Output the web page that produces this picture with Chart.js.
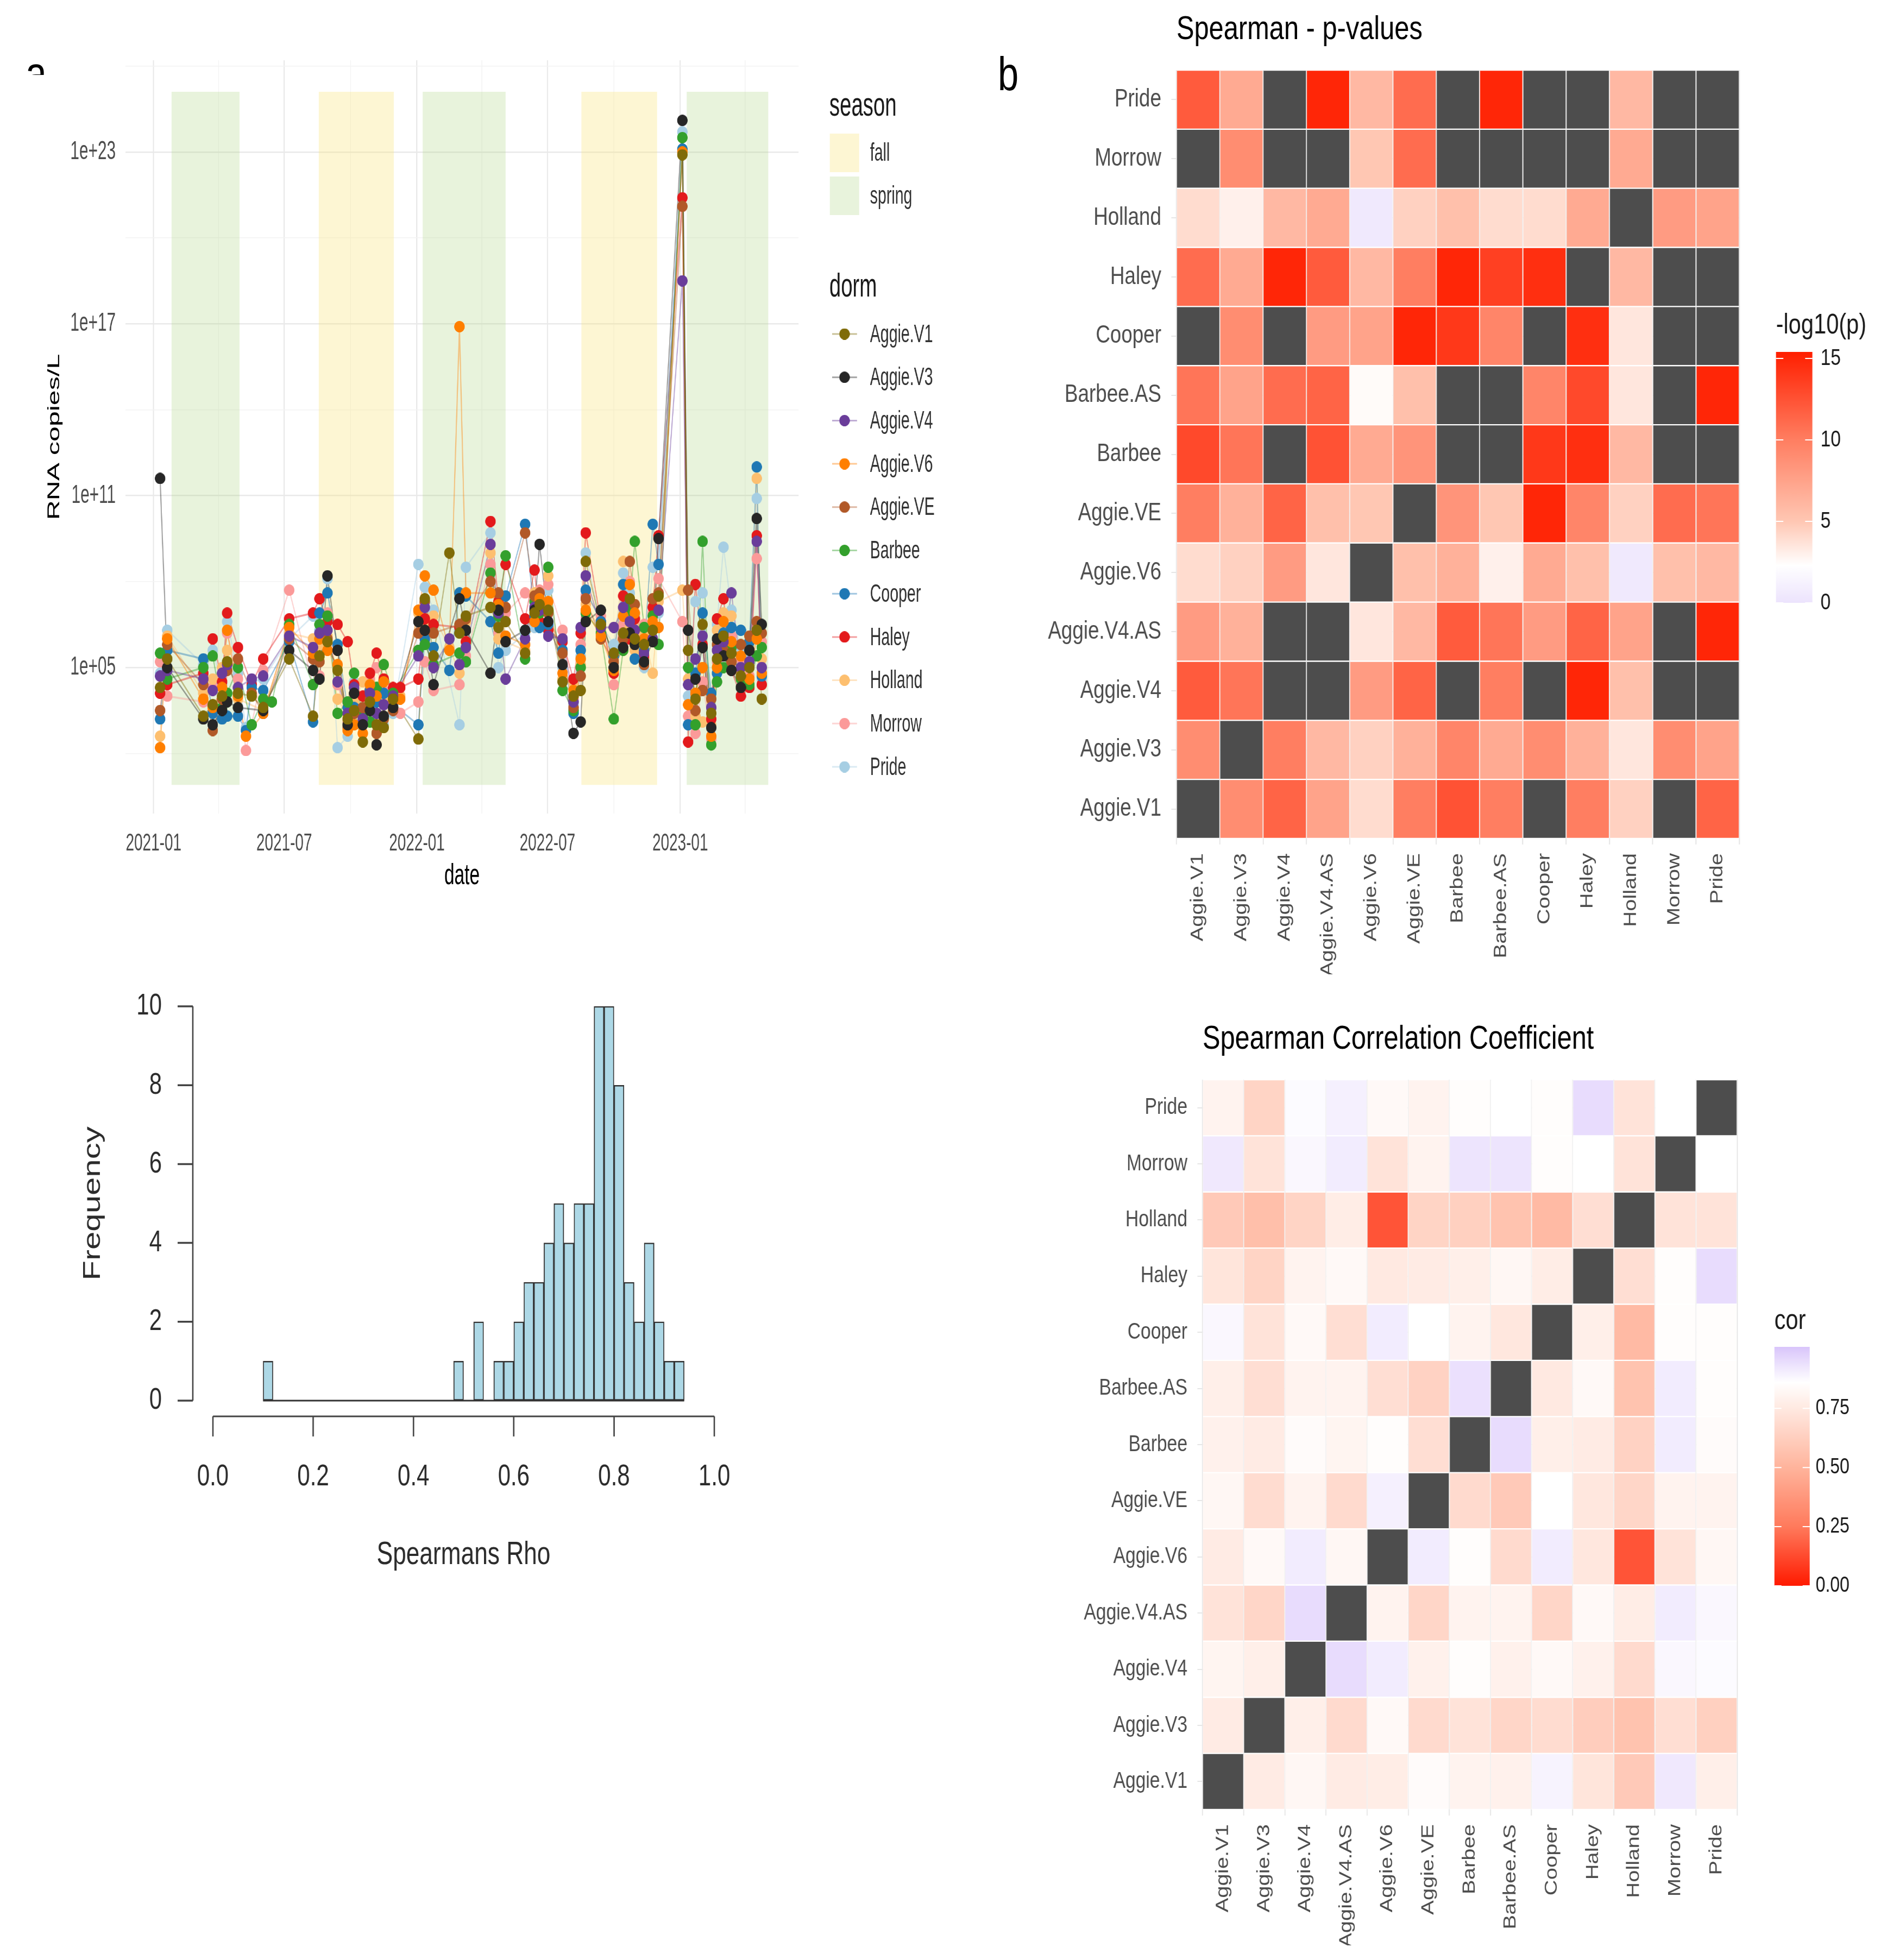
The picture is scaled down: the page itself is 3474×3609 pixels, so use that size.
<!DOCTYPE html>
<html>
<head>
<meta charset="utf-8">
<script src="https://cdn.jsdelivr.net/npm/chart.js@4.4.1/dist/chart.umd.min.js"></script>
<style>
  html, body { margin: 0; padding: 0; background: #fff; }
  body { width: 3474px; height: 3609px; position: relative; overflow: hidden; font-family: 'Liberation Sans', Arial, sans-serif; }
  canvas { position: absolute; }
  .tag { position: absolute; font-size: 88px; line-height: 88px; color: #000; transform-origin: 0 0; }
</style>
</head>
<body>
<div style="position:absolute;left:0;top:0;width:200px;height:138px;overflow:hidden;">
  <div class="tag" style="left:47px;top:91px;transform:scaleX(0.8)">a</div>
</div>
<div class="tag" style="left:1837px;top:92px;transform:scaleX(0.78)">b</div>
<canvas id="ts"></canvas>
<canvas id="hist"></canvas>
<canvas id="pval"></canvas>
<canvas id="corr"></canvas>
<script>
// ---------- data: panel a (log10 RNA copies/L by sampling date) ----------
const tsDates = [
  '2021-01-10','2021-01-20','2021-03-11','2021-03-24','2021-04-06','2021-04-13','2021-04-28','2021-05-09','2021-05-17','2021-06-02',
  '2021-06-14','2021-07-08','2021-08-10','2021-08-19','2021-08-30','2021-09-13','2021-09-27','2021-10-06','2021-10-18','2021-10-28',
  '2021-11-06','2021-11-16','2021-11-29','2021-12-09','2022-01-03','2022-01-12','2022-01-24','2022-02-15','2022-03-01','2022-03-10',
  '2022-04-13','2022-04-24','2022-05-04','2022-05-31','2022-06-13','2022-06-20','2022-07-02','2022-07-22','2022-08-06','2022-08-16',
  '2022-08-23','2022-09-13','2022-10-01','2022-10-14','2022-10-23','2022-10-30','2022-11-12','2022-11-24','2022-12-02','2023-01-04',
  '2023-01-12','2023-01-22','2023-02-01','2023-02-13','2023-02-21','2023-03-02','2023-03-13','2023-03-26','2023-04-07','2023-04-17',
  '2023-04-24'
];
const aggieV1 = [4.3,5.3,3.3,3.7,4.0,5.2,4.1,null,4.0,3.6, null,5.3,3.3,5.4,5.9,4.9,3.2,3.5,2.4,3.8, 3.0,2.9,3.9,null,2.5,7.4,5.4,9.0,6.2,6.8,
  7.1,6.4,6.6,5.5,6.9,7.2,7.0,4.5,4.0,4.2, 8.7,6.5,5.5,6.2,7.4,6.0,5.8,6.3,7.5,22.9, 5.6,3.9,6.5,3.4,5.3,6.1,5.5,4.7,5.0,6.3, 3.9];
const aggieV3 = [11.6,5.0,3.2,3.0,3.5,3.8,3.6,null,null,3.5, null,5.6,4.9,4.6,8.2,5.6,3.0,4.1,3.0,3.5, 2.3,3.3,3.6,null,6.6,6.3,4.4,null,7.4,6.3,
  4.8,7.0,5.9,6.3,7.0,9.3,6.6,5.1,2.7,3.1, 6.6,7.0,5.0,5.7,6.2,5.8,5.2,5.9,9.5,24.1, 6.3,4.6,5.7,2.9,6.0,5.4,4.9,4.3,5.6,10.2, 6.5];
const aggieV4 = [4.7,4.9,4.6,4.2,4.8,5.1,4.3,null,4.6,4.7, null,6.1,5.7,6.2,6.3,4.5,3.4,4.3,3.2,4.1, 3.4,3.7,4.0,null,5.4,7.1,5.0,6.0,5.1,5.7,
  9.3,6.9,4.6,6.0,7.1,7.0,6.1,6.0,3.8,6.4, 8.2,6.4,6.4,7.1,6.6,6.3,5.5,6.0,7.0,18.5, 4.4,5.3,6.1,3.6,5.6,5.9,7.6,5.0,5.2,9.4, 5.0];
const aggieV6 = [2.2,6.0,3.9,3.6,4.3,6.3,4.0,2.6,null,3.4, null,6.4,5.5,6.0,5.6,5.1,2.8,3.0,2.7,4.4, 4.0,4.5,3.8,3.9,7.0,8.2,7.7,5.6,16.9,7.6,
  7.6,7.2,6.1,5.8,6.6,7.4,7.3,4.8,4.2,5.3, 7.0,6.1,4.9,6.8,7.9,6.9,6.0,6.6,6.4,23.0, 3.7,4.1,5.0,2.6,5.0,6.6,5.9,5.4,4.6,6.0, 4.8];
const aggieVE = [3.5,5.8,4.4,2.8,3.9,4.9,5.3,null,4.1,3.4, null,6.0,5.3,5.2,6.0,5.6,2.9,3.4,3.6,3.9, 2.7,3.2,3.5,null,6.2,7.3,6.2,null,6.5,6.7,
  8.0,7.6,7.1,9.7,7.5,7.6,6.9,5.5,3.6,4.7, 7.4,6.0,5.2,6.0,8.7,7.2,5.1,7.4,7.6,21.1, 7.7,3.5,4.2,3.9,5.8,5.6,5.2,5.8,6.1,6.6, 6.2];
const barbee = [5.5,4.6,5.0,5.4,3.6,4.1,5.0,null,3.0,3.9, 3.8,6.5,4.4,6.5,6.8,3.4,3.8,4.8,3.3,3.1, 4.3,5.1,4.1,null,5.6,5.8,5.1,null,5.5,5.2,
  8.3,6.8,8.9,5.3,7.3,6.9,8.5,4.2,3.5,5.0, 6.9,6.2,3.2,5.6,7.0,9.4,6.4,6.8,5.8,23.5, 5.0,3.0,9.4,2.3,4.5,5.0,5.7,4.6,4.4,5.4, 5.7];
const cooper = [3.2,5.6,5.3,3.4,3.2,3.3,3.3,2.8,4.3,4.2, null,5.9,3.1,6.9,7.6,5.8,3.6,3.6,3.1,4.2, 3.8,4.1,3.7,null,3.0,6.0,5.7,4.9,7.6,7.5,
  6.6,5.5,7.5,10.0,6.8,6.4,6.5,5.6,3.4,5.6, 7.7,6.6,5.4,7.9,7.3,5.3,5.6,10.0,8.6,23.1, 3.0,4.8,6.9,4.1,4.8,6.2,6.4,6.3,5.9,12.0, 4.7];
const haley = [4.1,4.4,4.8,6.0,4.5,6.9,5.7,null,4.4,5.3, null,6.7,6.9,7.4,6.6,6.5,5.9,4.4,4.0,4.8, 5.5,4.6,4.3,4.3,4.6,6.7,6.5,null,6.4,5.9,
  10.1,7.3,8.6,6.7,8.4,6.6,6.3,5.9,4.6,6.2, 9.7,6.6,4.8,7.5,6.0,6.7,5.4,7.1,9.6,21.4, 2.4,7.9,5.8,3.2,6.7,7.4,4.9,4.0,4.3,9.6, 4.4];
const holland = [2.6,6.1,4.1,4.6,5.0,5.6,3.9,null,null,3.5, null,6.2,6.0,5.8,6.1,3.9,3.3,3.8,4.5,4.4, 4.0,3.9,3.7,4.0,6.9,6.4,6.8,5.7,4.8,6.6,
  9.0,6.0,5.9,5.6,7.6,7.0,8.2,4.6,4.4,5.1, 7.2,6.3,5.3,8.7,6.4,5.6,6.2,4.8,7.3,7.7, 4.6,3.3,3.1,3.0,6.3,6.9,6.8,4.9,5.1,11.6, 5.3];
const morrow = [5.2,4.0,3.8,4.3,4.7,6.2,4.6,2.1,null,4.9, null,7.7,4.4,4.7,6.9,4.4,3.1,4.0,3.5,4.6, 5.0,4.2,3.8,3.4,3.8,5.2,4.2,null,4.4,5.4,
  8.6,6.2,6.9,7.6,7.5,7.7,7.9,6.3,3.9,5.8, 7.5,6.8,4.4,6.5,8.0,6.1,6.5,6.9,8.1,6.6, 3.3,2.7,4.5,2.5,5.2,6.0,6.1,5.3,4.7,8.8, 5.9];
const pride = [4.8,6.3,5.1,5.6,4.4,6.6,4.8,2.9,4.5,4.6, null,6.0,6.8,6.3,8.1,2.2,2.6,4.5,3.0,3.6, 3.4,3.0,3.4,null,8.6,7.8,7.0,null,3.0,8.5,
  9.7,5.0,5.6,6.2,6.4,7.2,7.7,5.0,3.7,5.4, 9.0,6.5,5.8,8.3,7.6,6.8,5.0,8.5,6.9,23.7, 4.0,7.3,7.6,3.6,6.5,9.2,7.0,5.7,5.5,10.9, 4.6];

const dormNames = ['Aggie.V1','Aggie.V3','Aggie.V4','Aggie.V6','Aggie.VE','Barbee','Cooper','Haley','Holland','Morrow','Pride'];
const dormValues = [aggieV1, aggieV3, aggieV4, aggieV6, aggieVE, barbee, cooper, haley, holland, morrow, pride];
const dormColors = ['#7f6b08','#262626','#6a3d9a','#ff7f00','#b15928','#33a02c','#1f78b4','#e31a1c','#fdbf6f','#fb9a99','#a6cee3'];

const seasonNames  = ['spring','fall','spring','fall','spring'];
const seasonStarts = ['2021-01-26','2021-08-18','2022-01-09','2022-08-17','2023-01-10'];
const seasonEnds   = ['2021-04-30','2021-11-30','2022-05-04','2022-11-30','2023-05-03'];
const seasonYRange = [0.9, 25.1];

const xMajorDates = ['2021-01-01','2021-07-01','2022-01-01','2022-07-01','2023-01-01'];
const xMinorDates = ['2021-04-01','2021-10-01','2022-04-01','2022-10-01','2023-04-01'];
const yTickValues = [2, 5, 8, 11, 14, 17, 20, 23, 26];
const yLabeledTicks = [5, 11, 17, 23];

// ---------- data: histogram of Spearman rho ----------
const rhoBinEdges = [0.10,0.12,0.14,0.16,0.18,0.20,0.22,0.24,0.26,0.28,0.30,0.32,0.34,0.36,0.38,0.40,0.42,0.44,0.46,0.48,
  0.50,0.52,0.54,0.56,0.58,0.60,0.62,0.64,0.66,0.68,0.70,0.72,0.74,0.76,0.78,0.80,0.82,0.84,0.86,0.88,0.90,0.92,0.94];
const rhoCounts = [1,0,0,0,0,0,0,0,0,0,0,0,0,0,0,0,0,0,0,1, 0,2,0,1,1,2,3,3,4,5,4,5,5,10,10,8,3,2,4,2,1,1];
const histXTicks = [0, 0.2, 0.4, 0.6, 0.8, 1.0];
const histYTicks = [0, 2, 4, 6, 8, 10];

// ---------- data: heatmaps (rows and columns in the same order, row 0 at the bottom) ----------
const dorms13 = ['Aggie.V1','Aggie.V3','Aggie.V4','Aggie.V4.AS','Aggie.V6','Aggie.VE','Barbee','Barbee.AS','Cooper','Haley','Holland','Morrow','Pride'];
// -log10(p); null = not available (drawn dark grey)
const negLogP = [
  [null, 9, 11.5, 7.5, 4, 10, 12.5, 10, null, 10, 4.5, null, 11.5],   // Aggie.V1
  [9, null, 10, 6, 4.5, 6.5, 9.5, 7, 9, 6.5, 3.5, 9, 7.5],            // Aggie.V3
  [12, 10.5, null, null, 8, 11.5, null, 10, null, 15, 5.5, null, null],// Aggie.V4
  [8, 6.5, null, null, 3.5, 6, 12, 10.5, 8, 11.5, 7.5, null, 15],      // Aggie.V4.AS
  [4, 4.5, 8, 3.5, null, 5.5, 6.5, 3, 7, 5.5, 0.5, 5.5, 6],            // Aggie.V6
  [10, 6.5, 11.5, 5.5, 5, null, 8.5, 5, 15, 9.5, 4.5, 11, 10.5],       // Aggie.VE
  [13, 10.5, null, 12.5, 7, 8.5, null, null, 14, 14.5, 6, null, null], // Barbee
  [10.5, 7.5, 11, 11.5, 2.5, 5.5, null, null, 9.5, 13, 3.5, null, 15], // Barbee.AS
  [null, 9, null, 8, 7.5, 15, 14, 9.5, null, 14.5, 3.5, null, null],   // Cooper
  [11, 7, 15, 12, 6, 10, 15, 13.5, 14.5, null, 6, null, null],         // Haley
  [4, 3, 6, 7, 0.5, 4.5, 5.5, 4, 4, 7, null, 8, 7.5],                  // Holland
  [null, 9, null, null, 5, 11, null, null, null, null, 7, null, null], // Morrow
  [12, 7, null, 15, 6, 11, null, 15, null, null, 6, null, null]        // Pride
];
const spearmanCor = [
  [null, 0.76, 0.82, 0.76, 0.77, 0.84, 0.80, 0.79, 0.89, 0.73, 0.60, 0.92, 0.78],
  [0.76, null, 0.78, 0.68, 0.83, 0.68, 0.72, 0.66, 0.69, 0.62, 0.57, 0.70, 0.63],
  [0.81, 0.78, null, 0.95, 0.91, 0.79, 0.85, 0.79, 0.83, 0.79, 0.68, 0.88, 0.87],
  [0.72, 0.66, 0.95, null, 0.80, 0.66, 0.80, 0.80, 0.66, 0.83, 0.77, 0.91, 0.88],
  [0.76, 0.83, 0.91, 0.82, null, 0.91, 0.85, 0.68, 0.91, 0.74, 0.15, 0.72, 0.82],
  [0.82, 0.69, 0.80, 0.68, 0.90, null, 0.68, 0.60, 0.86, 0.74, 0.66, 0.80, 0.80],
  [0.79, 0.76, 0.84, 0.81, 0.85, 0.70, null, 0.95, 0.78, 0.76, 0.64, 0.91, 0.84],
  [0.78, 0.70, 0.80, 0.80, 0.70, 0.64, 0.94, null, 0.75, 0.83, 0.57, 0.91, 0.85],
  [0.88, 0.72, 0.83, 0.70, 0.91, 0.86, 0.80, 0.74, null, 0.78, 0.53, 0.85, 0.85],
  [0.73, 0.65, 0.80, 0.83, 0.75, 0.76, 0.78, 0.82, 0.77, null, 0.70, 0.85, 0.95],
  [0.60, 0.55, 0.65, 0.77, 0.15, 0.65, 0.63, 0.57, 0.53, 0.70, null, 0.72, 0.72],
  [0.92, 0.72, 0.88, 0.91, 0.72, 0.80, 0.93, 0.93, 0.85, 0.86, 0.72, null, 0.86],
  [0.80, 0.65, 0.87, 0.90, 0.83, 0.80, 0.85, 0.86, 0.85, 0.95, 0.72, 0.86, null]
];
const pStops   = [[0,'#ece3fd'],[2.3,'#ffffff'],[5,'#ffc7b3'],[10,'#ff7e61'],[15.4,'#ff1f00']];
const corStops = [[0,'#ff1a00'],[0.25,'#ff7a5c'],[0.5,'#ffb49c'],[0.75,'#ffe9e1'],[0.86,'#ffffff'],[1.01,'#d9c5fb']];
const pLegendTicks = [0, 5, 10, 15];
const corLegendTicks = [0, 0.25, 0.5, 0.75];

// ---------- helpers ----------
const FONT = "'Liberation Sans', Arial, sans-serif";
const NA_COLOR = '#4d4d4d';
Chart.defaults.font.family = FONT;
Chart.defaults.color = '#4d4d4d';
Chart.defaults.animation = false;

function dayOf(s) {
  const [y, m, d] = s.split('-').map(Number);
  return (Date.UTC(y, m - 1, d) - Date.UTC(2021, 0, 1)) / 864e5;
}
function hexRgb(h) {
  return [parseInt(h.slice(1, 3), 16), parseInt(h.slice(3, 5), 16), parseInt(h.slice(5, 7), 16)];
}
function withAlpha(h, a) {
  const [r, g, b] = hexRgb(h);
  return `rgba(${r},${g},${b},${a})`;
}
function rampColor(stops, v) {
  if (v === null) return NA_COLOR;
  if (v <= stops[0][0]) return stops[0][1];
  for (let i = 1; i < stops.length; i++) {
    if (v <= stops[i][0]) {
      const t = (v - stops[i - 1][0]) / (stops[i][0] - stops[i - 1][0]);
      const A = hexRgb(stops[i - 1][1]), B = hexRgb(stops[i][1]);
      return `rgb(${A.map((x, k) => Math.round(x + (B[k] - x) * t)).join(',')})`;
    }
  }
  return stops[stops.length - 1][1];
}
// the reference is squeezed sideways, so each canvas is drawn wider and shown narrower
function setupCanvas(id, box, s) {
  const c = document.getElementById(id);
  c.width = Math.round(box.width / s);
  c.height = box.height;
  c.style.left = box.left + 'px';
  c.style.top = box.top + 'px';
  c.style.width = box.width + 'px';
  c.style.height = box.height + 'px';
  return c;
}
function fixedTicks(values) {
  return scale => { scale.ticks = values.map(v => ({value: v})); };
}

// ---------- panel a: time series ----------
const TS_S = 0.62;
const tsBox = {left: 0, top: 0, width: 1900, height: 1700};
const tsCanvas = setupCanvas('ts', tsBox, TS_S);
const seasonFill = {fall: 'rgba(250,230,130,0.35)', spring: 'rgba(180,215,140,0.3)'};

// dot sprite: about 19 x 21 px once the canvas is squeezed
function dotSprite(color) {
  const c = document.createElement('canvas');
  c.width = Math.round(19 / TS_S);
  c.height = 21;
  const g = c.getContext('2d');
  g.fillStyle = color;
  g.beginPath();
  g.ellipse(c.width / 2, c.height / 2, c.width / 2, c.height / 2, 0, 0, Math.PI * 2);
  g.fill();
  return c;
}
const dotSprites = dormColors.map(dotSprite);

const tsDatasets = [];
dormNames.forEach((name, k) => {
  const pts = tsDates.map((d, i) => ({x: dayOf(d), y: dormValues[k][i]})).filter(p => p.y !== null);
  tsDatasets.push({label: name + ' line', data: pts, showLine: true, pointRadius: 0,
    borderColor: withAlpha(dormColors[k], 0.42), borderWidth: 3.5, order: 2});
  tsDatasets.push({label: name, data: pts, showLine: false, pointStyle: dotSprites[k], pointRadius: 11,
    pointBackgroundColor: dormColors[k], pointBorderWidth: 0, order: 1});
});

const seasonPlugin = {
  id: 'seasons',
  beforeDatasetsDraw(chart) {
    const {ctx, scales: {x, y}} = chart;
    ctx.save();
    seasonNames.forEach((s, i) => {
      const x0 = x.getPixelForValue(dayOf(seasonStarts[i]));
      const x1 = x.getPixelForValue(dayOf(seasonEnds[i]));
      const y0 = y.getPixelForValue(seasonYRange[1]);
      const y1 = y.getPixelForValue(seasonYRange[0]);
      ctx.fillStyle = seasonFill[s];
      ctx.fillRect(x0, y0, x1 - x0, y1 - y0);
    });
    ctx.restore();
  }
};

const tsLegendPlugin = {
  id: 'tsLegend',
  afterDraw(chart) {
    const ctx = chart.ctx;
    const X = v => v / TS_S;
    ctx.save();
    ctx.textBaseline = 'middle';
    ctx.textAlign = 'left';
    ctx.fillStyle = '#1a1a1a';
    ctx.font = `62px ${FONT}`;
    ctx.fillText('season', X(1527), 196);
    ctx.fillText('dorm', X(1527), 529);
    ['fall', 'spring'].forEach((s, i) => {
      const top = 246 + i * 79;
      ctx.fillStyle = seasonFill[s];
      ctx.fillRect(X(1528), top, X(54), 71);
      ctx.fillStyle = '#333';
      ctx.font = `46px ${FONT}`;
      ctx.fillText(s, X(1602), top + 37);
    });
    dormNames.forEach((name, k) => {
      const y = 615 + k * 79.7;
      ctx.strokeStyle = withAlpha(dormColors[k], 0.42);
      ctx.lineWidth = 3;
      ctx.beginPath();
      ctx.moveTo(X(1532), y);
      ctx.lineTo(X(1578), y);
      ctx.stroke();
      const sp = dotSprites[k];
      ctx.drawImage(sp, X(1555) - sp.width / 2, y - sp.height / 2);
      ctx.fillStyle = '#333';
      ctx.font = `46px ${FONT}`;
      ctx.fillText(name, X(1602), y + 2);
    });
    ctx.restore();
  }
};

const xTickDays = xMajorDates.concat(xMinorDates).map(dayOf).sort((a, b) => a - b);
const xMajorDays = xMajorDates.map(dayOf);

new Chart(tsCanvas, {
  type: 'scatter',
  data: {datasets: tsDatasets},
  plugins: [seasonPlugin, tsLegendPlugin],
  options: {
    responsive: false, devicePixelRatio: 1, animation: false,
    layout: {padding: {left: 0, right: (1900 - 1470) / TS_S, top: 111, bottom: 1700 - 1498 - 150}},
    plugins: {legend: {display: false}, tooltip: {enabled: false}},
    scales: {
      x: {
        type: 'linear', min: -39, max: 894,
        afterBuildTicks: fixedTicks(xTickDays),
        afterFit: s => { s.height = 150; },
        border: {display: false},
        grid: {drawTicks: false,
          color: c => xMajorDays.includes(c.tick.value) ? '#e9e9e9' : '#f3f3f3',
          lineWidth: c => xMajorDays.includes(c.tick.value) ? 3.5 : 2},
        ticks: {autoSkip: false, maxRotation: 0, padding: 29, font: {size: 45}, color: '#4d4d4d',
          callback: v => { const i = xMajorDays.indexOf(v); return i >= 0 ? xMajorDates[i].slice(0, 7) : ''; }},
        title: {display: true, text: 'date', color: '#000', font: {size: 54}, padding: {top: 0, bottom: 2}}
      },
      y: {
        min: -0.1, max: 26.2,
        afterBuildTicks: fixedTicks(yTickValues),
        afterFit: s => { s.width = 231 / TS_S; },
        border: {display: false},
        grid: {drawTicks: false,
          color: c => yLabeledTicks.includes(c.tick.value) ? '#e9e9e9' : '#f3f3f3',
          lineWidth: c => yLabeledTicks.includes(c.tick.value) ? 2.5 : 1.5},
        ticks: {autoSkip: false, padding: 29, font: {size: 48}, color: '#4d4d4d',
          callback: v => yLabeledTicks.includes(v) ? '1e+' + String(v).padStart(2, '0') : ''},
        title: {display: true, text: 'RNA copies/L', color: '#000', font: {size: 50}, padding: {top: 132, bottom: 0}}
      }
    }
  }
});

// ---------- histogram ----------
const H_S = 0.75;
const histBox = {left: 0, top: 1750, width: 1500, height: 1300};
const histCanvas = setupCanvas('hist', histBox, H_S);
const rAxesPlugin = {
  id: 'rAxes',
  afterDraw(chart) {
    const {ctx, chartArea, scales: {x, y}} = chart;
    ctx.save();
    ctx.strokeStyle = '#444';
    ctx.lineWidth = 3.5;
    const ax = chartArea.left;
    ctx.beginPath();
    ctx.moveTo(ax, y.getPixelForValue(histYTicks[0]));
    ctx.lineTo(ax, y.getPixelForValue(histYTicks[histYTicks.length - 1]));
    histYTicks.forEach(v => {
      const py = y.getPixelForValue(v);
      ctx.moveTo(ax, py);
      ctx.lineTo(ax - 28 / H_S, py);
    });
    ctx.stroke();
    ctx.lineWidth = 3;
    const ay = chartArea.bottom;
    ctx.beginPath();
    ctx.moveTo(x.getPixelForValue(histXTicks[0]), ay);
    ctx.lineTo(x.getPixelForValue(histXTicks[histXTicks.length - 1]), ay);
    ctx.stroke();
    ctx.lineWidth = 3.5;
    ctx.beginPath();
    histXTicks.forEach(v => {
      const px = x.getPixelForValue(v);
      ctx.moveTo(px, ay);
      ctx.lineTo(px, ay + 37);
    });
    ctx.stroke();
    ctx.restore();
  }
};
new Chart(histCanvas, {
  type: 'bar',
  data: {
    datasets: [
      {type: 'bar', data: rhoCounts.map((c, i) => ({x: (rhoBinEdges[i] + rhoBinEdges[i + 1]) / 2, y: c})),
        backgroundColor: '#add8e6', borderColor: '#333', borderWidth: 2.5, borderSkipped: false,
        barPercentage: 1, categoryPercentage: 1},
      {type: 'line', data: [{x: rhoBinEdges[0], y: 0}, {x: rhoBinEdges[rhoBinEdges.length - 1], y: 0}],
        borderColor: '#333', borderWidth: 3, pointRadius: 0}
    ]
  },
  plugins: [rAxesPlugin],
  options: {
    responsive: false, devicePixelRatio: 1, animation: false,
    layout: {padding: {left: 0, right: (1500 - 1352) / H_S, top: 74, bottom: 1300 - 858 - 300}},
    plugins: {legend: {display: false}, tooltip: {enabled: false}},
    scales: {
      x: {
        type: 'linear', min: -0.04, max: 1.04, offset: false,
        afterBuildTicks: fixedTicks(histXTicks),
        afterFit: s => { s.height = 300; },
        border: {display: false},
        grid: {drawOnChartArea: false, drawTicks: true, tickLength: 78, tickColor: 'rgba(0,0,0,0)'},
        ticks: {autoSkip: false, maxRotation: 0, padding: 0, font: {size: 56}, color: '#2b2b2b', callback: v => v.toFixed(1)},
        title: {display: true, text: 'Spearmans Rho', color: '#2b2b2b', font: {size: 59}, padding: {top: 0, bottom: 9}}
      },
      y: {
        min: -0.4, max: 10.4,
        afterBuildTicks: fixedTicks(histYTicks),
        afterFit: s => { s.width = 355 / H_S; },
        border: {display: false},
        grid: {drawOnChartArea: false, drawTicks: true, tickLength: 76, tickColor: 'rgba(0,0,0,0)'},
        ticks: {autoSkip: false, padding: 0, font: {size: 56}, color: '#2b2b2b'},
        title: {display: true, text: 'Frequency', color: '#2b2b2b', font: {size: 60}, padding: {top: 192, bottom: 0}}
      }
    }
  }
});

// ---------- heatmaps (areas and legend positions in page pixels) ----------
const HM_S = 0.8;
function heatLegendPlugin(cfg, boxLeft) {
  return {
    id: 'heatLegend',
    afterDraw(chart) {
      const ctx = chart.ctx;
      const X = v => (v - boxLeft) / HM_S;
      const [vmin, vmax] = cfg.range;
      const yOf = v => cfg.barBottom - (v - vmin) / (vmax - vmin) * (cfg.barBottom - cfg.barTop);
      ctx.save();
      ctx.fillStyle = '#1a1a1a';
      ctx.font = `${cfg.titleSize}px ${FONT}`;
      ctx.textBaseline = 'middle';
      ctx.textAlign = 'left';
      ctx.fillText(cfg.title, X(cfg.barLeft), cfg.titleY);
      const g = ctx.createLinearGradient(0, cfg.barTop, 0, cfg.barBottom);
      cfg.stops.forEach(([v, c]) => g.addColorStop(Math.min(1, Math.max(0, (vmax - v) / (vmax - vmin))), c));
      ctx.fillStyle = g;
      const bx = X(cfg.barLeft), bw = cfg.barWidth / HM_S;
      ctx.fillRect(bx, cfg.barTop, bw, cfg.barBottom - cfg.barTop);
      ctx.strokeStyle = '#fff';
      ctx.lineWidth = 2;
      ctx.font = `${cfg.labelSize}px ${FONT}`;
      ctx.fillStyle = '#1a1a1a';
      cfg.ticks.forEach(v => {
        const py = yOf(v);
        ctx.beginPath();
        ctx.moveTo(bx, py); ctx.lineTo(bx + bw * 0.2, py);
        ctx.moveTo(bx + bw * 0.8, py); ctx.lineTo(bx + bw, py);
        ctx.stroke();
        ctx.fillText(cfg.format(v), X(cfg.labelX), py);
      });
      ctx.restore();
    }
  };
}

function makeHeatmap(id, box, area, matrix, stops, title, titleY, yFont, legendCfg) {
  const canvas = setupCanvas(id, box, HM_S);
  const datasets = dorms13.map((rowName, r) => ({
    label: rowName,
    data: dorms13.map(() => [r - 0.5, r + 0.5]),
    backgroundColor: matrix[r].map(v => rampColor(stops, v)),
    borderColor: 'rgba(255,255,255,0.4)', borderWidth: 1.5, borderSkipped: false,
    grouped: false, barPercentage: 1, categoryPercentage: 1
  }));
  const titleLine = 61 * 1.2;
  const areaLeft = area.left - box.left, areaRight = area.right - box.left;
  new Chart(canvas, {
    type: 'bar',
    data: {labels: dorms13, datasets},
    plugins: [heatLegendPlugin(legendCfg, box.left)],
    options: {
      responsive: false, devicePixelRatio: 1, animation: false,
      layout: {padding: {left: 0, right: (box.width - areaRight) / HM_S, top: 0, bottom: box.height - area.bottom - 250}},
      plugins: {
        legend: {display: false}, tooltip: {enabled: false},
        title: {display: true, text: title, align: 'start', fullSize: false, color: '#000',
          font: {size: 61, weight: 'normal'},
          padding: {top: titleY - titleLine / 2, bottom: area.top - titleY - titleLine / 2}}
      },
      scales: {
        x: {
          type: 'category', offset: true,
          afterFit: s => { s.height = 250; },
          border: {display: false},
          grid: {color: '#e6e6e6', lineWidth: 2.5, drawTicks: true, tickLength: 11},
          ticks: {autoSkip: false, minRotation: 90, maxRotation: 90, padding: 16, font: {size: 40}, color: '#4d4d4d'}
        },
        y: {
          min: -0.5, max: 12.5,
          afterBuildTicks: fixedTicks(dorms13.map((d, i) => i)),
          afterFit: s => { s.width = areaLeft / HM_S; },
          border: {display: false},
          grid: {color: '#e6e6e6', lineWidth: 2, drawTicks: true, tickLength: 12},
          ticks: {autoSkip: false, padding: 23, font: {size: yFont}, color: '#4d4d4d', callback: v => dorms13[v]}
        }
      }
    }
  });
}

makeHeatmap('pval', {left: 1880, top: 0, width: 1594, height: 1860},
  {left: 2166, right: 3202, top: 129, bottom: 1544},
  negLogP, pStops, 'Spearman - p-values', 55, 46,
  {title: '-log10(p)', titleSize: 52, titleY: 600, barLeft: 3270, barWidth: 67, barTop: 648, barBottom: 1110,
   range: [0, 15.4], stops: pStops, ticks: pLegendTicks, labelX: 3352, labelSize: 42, format: v => String(v)});

makeHeatmap('corr', {left: 1880, top: 1800, width: 1594, height: 1809},
  {left: 2214, right: 3198, top: 188, bottom: 1532},
  spearmanCor, corStops, 'Spearman Correlation Coefficient', 114, 42,
  {title: 'cor', titleSize: 52, titleY: 633, barLeft: 3267, barWidth: 65, barTop: 680, barBottom: 1120,
   range: [0, 1.01], stops: corStops, ticks: corLegendTicks, labelX: 3343, labelSize: 40, format: v => v.toFixed(2)});
</script>
</body>
</html>
